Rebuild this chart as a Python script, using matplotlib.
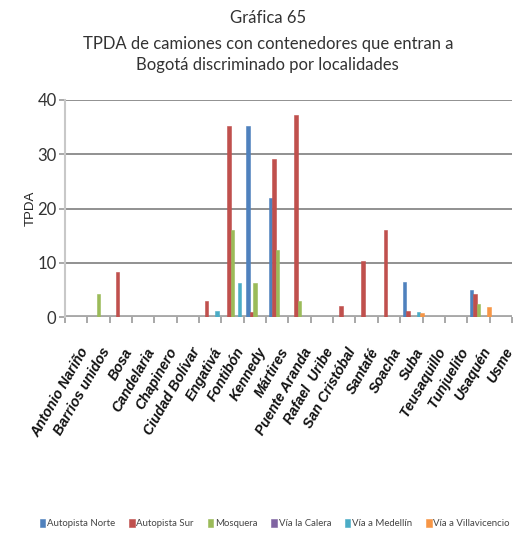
import matplotlib
matplotlib.use("Agg")
import matplotlib.pyplot as plt
import numpy as np

# Localidades (categorías del eje X)
localidades = ["Antonio Nariño", "Barrios unidos", "Bosa", "Candelaria", "Chapinero",
               "Ciudad Bolívar", "Engativá", "Fontibón", "Kennedy", "Mártires",
               "Puente Aranda", "Rafael  Uribe", "San Cristóbal", "Santafé", "Soacha",
               "Suba", "Teusaquillo", "Tunjuelito", "Usaquén", "Usme"]

# TPDA por punto de entrada
autopista_norte = [0, 0, 0, 0, 0, 0, 0, 0, 35.2, 22.0, 0, 0, 0, 0, 0, 6.5, 0, 0, 5.0, 0]
autopista_sur   = [0, 0, 8.3, 0, 0, 0, 2.9, 35.2, 1.0, 29.2, 37.2, 0, 2.1, 10.4, 16.1, 1.1, 0, 0, 4.3, 0]
mosquera        = [0, 4.2, 0, 0, 0, 0, 0, 16.1, 6.3, 12.3, 3.0, 0, 0, 0, 0, 0, 0, 0, 2.5, 0]
via_calera      = [0, 0, 0, 0, 0, 0, 0, 0, 0, 0, 0, 0, 0, 0, 0, 0, 0, 0, 0, 0]
via_medellin    = [0, 0, 0, 0, 0, 0, 1.1, 6.3, 0, 0, 0, 0, 0, 0, 0, 1.0, 0, 0, 0, 0]
via_villavicencio = [0, 0, 0, 0, 0, 0, 0, 0, 0, 0, 0, 0, 0, 0, 0, 0.8, 0, 0, 1.8, 0]

series_nombres = ["Autopista Norte", "Autopista Sur", "Mosquera", "Vía la Calera",
                  "Vía a Medellín", "Vía a Villavicencio"]
series_valores = [autopista_norte, autopista_sur, mosquera, via_calera,
                  via_medellin, via_villavicencio]
colores = ["#4f81bd", "#c0504d", "#9bbb59", "#8064a2", "#4bacc6", "#f79646"]

narrow = ["Lato", "DejaVu Sans"]

fig = plt.figure(figsize=(5.15, 5.34), dpi=100)
ax = fig.add_axes([0.126, 0.406, 0.868, 0.407])

x = np.arange(len(localidades))
ancho = 0.155
for k, (nombre, vals, c) in enumerate(zip(series_nombres, series_valores, colores)):
    ax.bar(x + (k - 2.5) * ancho + 0.08, vals, width=ancho, color=c, label=nombre,
           edgecolor=c, linewidth=0.4, zorder=3)

ax.set_xlim(-0.5, len(localidades) - 0.5)
ax.set_ylim(0, 40)
ax.set_yticks([0, 10, 20, 30, 40])
ax.yaxis.grid(True, color="#909090", linewidth=1.4, zorder=0)
ax.axhline(0, color="#a8a8a8", linewidth=3.5, zorder=2)

for s in ["top", "right", "bottom"]:
    ax.spines[s].set_visible(False)
ax.spines["left"].set_color("#c8c8c8")
ax.spines["left"].set_linewidth(1.5)

ax.set_xticks(np.arange(-0.5, len(localidades)))
ax.set_xticklabels([])
ax.tick_params(axis="x", length=4, color="#999999", width=1.2)
ax.tick_params(axis="y", length=4, color="#999999", width=1.2, labelsize=12,
               labelcolor="#333333", pad=2)
for lab in ax.get_yticklabels():
    lab.set_family(narrow)

# etiquetas de localidades rotadas
for i, nombre in enumerate(localidades):
    ax.text(i + 0.12, -5.2, nombre, rotation=60, ha="right", va="top",
            rotation_mode="anchor", fontsize=10.1, fontweight="bold", fontstyle="italic",
            family=["Liberation Sans", "DejaVu Sans"], color="#111111")

ax.set_ylabel("TPDA", fontsize=9.5, family=["Liberation Sans", "DejaVu Sans"],
              color="#222222")
ax.yaxis.set_label_coords(-0.064, 0.5)

for yy, txt in [(0.966, "Gráfica 65"),
                (0.918, "TPDA de camiones con contenedores que entran a"),
                (0.878, "Bogotá discriminado por localidades")]:
    fig.text(0.52, yy, txt, ha="center", va="center", fontsize=12,
             family=narrow, color="#333333")

leg = fig.legend(loc="center", bbox_to_anchor=(0.534, 0.019), ncol=6, frameon=False,
                 handlelength=0.55, handleheight=0.9, handletextpad=0.2,
                 columnspacing=1.45, prop={"family": narrow, "size": 6.9})
for t in leg.get_texts():
    t.set_color("#444444")

fig.savefig("out.png", dpi=100)
